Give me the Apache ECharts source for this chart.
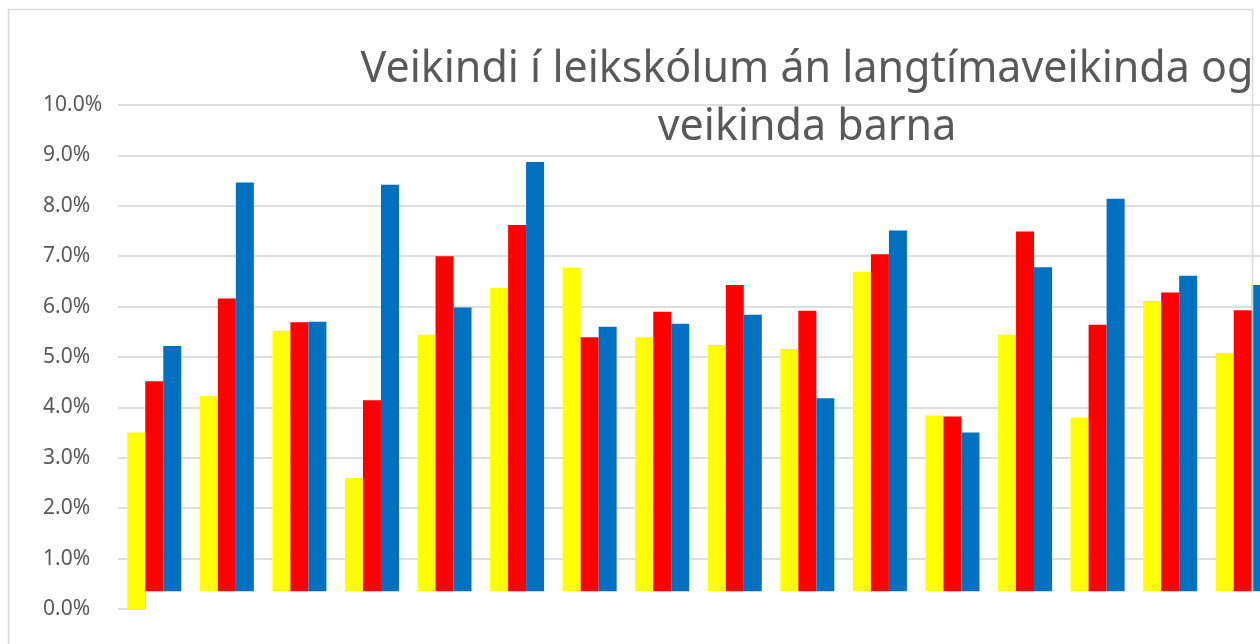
<!DOCTYPE html>
<html lang="is">
<head>
    <meta charset="UTF-8">
    <title>Veikindi í leikskólum</title>
    <script src="https://cdn.jsdelivr.net/npm/echarts@6/dist/echarts.min.js"></script>
    <style type="text/css">
    body { margin: 0; overflow: hidden; }
    .chart {
        width: 1300px;
        height: 644px;
    }
    </style>
</head>
<body>
    <div id="chart" class="chart"></div>
<script type="text/javascript">
// leikskólar (heiti sjást ekki á myndinni)
var categories = ['1', '2', '3', '4', '5', '6', '7', '8', '9', '10', '11', '12', '13', '14', '15', '16']
// veikindahlutfall í %
var gulur = [3.50, 4.22, 5.52, 2.60, 5.44, 6.37, 6.77, 5.39, 5.24, 5.16, 6.69, 3.84, 5.44, 3.80, 6.11, 5.08]
var raudur = [4.52, 6.16, 5.69, 4.14, 7.00, 7.62, 5.39, 5.90, 6.43, 5.92, 7.04, 3.82, 7.49, 5.64, 6.28, 5.93]
var blar = [5.22, 8.46, 5.70, 8.42, 5.98, 8.87, 5.60, 5.66, 5.84, 4.18, 7.51, 3.50, 6.78, 8.14, 6.61, 6.43]
var yTicks = [0, 10, 1]

// myndin er skorin hægra megin, þess vegna er teiknisvæðið breiðara en glugginn
var chart = echarts.init(document.getElementById('chart'))
var barW = 18

function bar(name, data, color) {
    return {
        name: name,
        type: 'bar',
        data: data,
        barWidth: barW,
        barGap: '0%',
        itemStyle: { color: color }
    }
}

var option = {
    backgroundColor: '#ffffff',
    animation: false,
    title: {
        text: 'Veikindi í leikskólum án langtímaveikinda og\nveikinda barna',
        left: 802,
        top: 36,
        textAlign: 'center',
        textStyle: {
            fontFamily: 'Noto Sans',
            fontSize: 43,
            fontWeight: 'normal',
            lineHeight: 58,
            color: '#595959'
        }
    },
    grid: {
        left: 118,
        top: 105,
        width: 1161,
        bottom: 35,
        containLabel: false
    },
    xAxis: {
        type: 'category',
        data: categories,
        axisLine: { show: false },
        axisTick: { show: false },
        axisLabel: { show: false }
    },
    yAxis: {
        type: 'value',
        min: yTicks[0],
        max: yTicks[1],
        interval: yTicks[2],
        axisLine: { show: false },
        axisTick: { show: false },
        axisLabel: {
            margin: 75,
            align: 'left',
            fontFamily: 'Noto Sans',
            fontSize: 21,
            color: '#595959',
            formatter: function (v) { return v.toFixed(1) + '%' }
        },
        splitLine: { lineStyle: { color: '#dedede', width: 2 } }
    },
    series: [
        bar('Röð 1', gulur, '#ffff00'),
        bar('Röð 2', raudur, '#ff0000'),
        bar('Röð 3', blar, '#0070c0')
    ]
}
chart.setOption(option)

// rammi og hvítt svæði neðst (eins og á upprunalegu myndinni)
var cx = chart.convertToPixel({ xAxisIndex: 0 }, categories[0])
var cy = chart.convertToPixel({ yAxisIndex: 0 }, 0.35)
chart.setOption({
    graphic: [
        {
            type: 'rect',
            z: 50,
            shape: { x: 8.5, y: 9.5, width: 1244, height: 700 },
            style: { fill: 'none', stroke: '#d9d9d9', lineWidth: 1.5 }
        },
        {
            type: 'rect',
            z: 60,
            shape: { x: cx - barW / 2, y: cy, width: 1300, height: 200 },
            style: { fill: '#ffffff' }
        }
    ]
})
</script>
</body>
</html>
